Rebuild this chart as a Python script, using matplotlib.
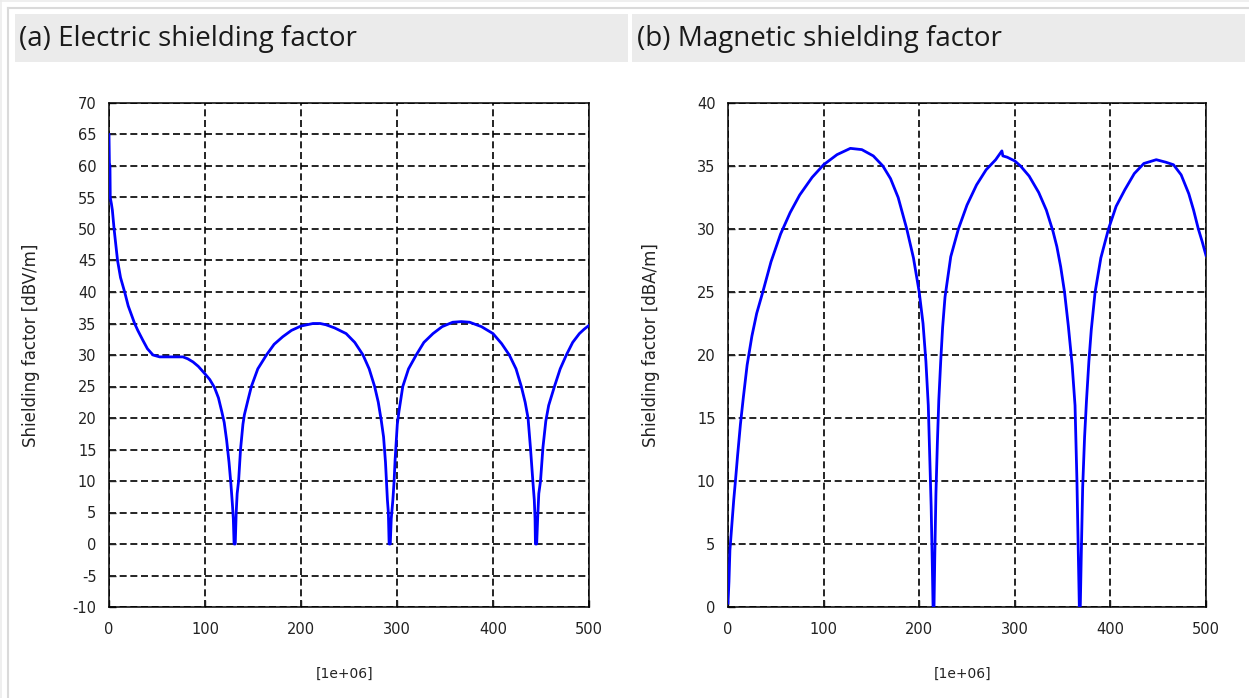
import matplotlib
matplotlib.use('Agg')
import matplotlib.pyplot as plt
from matplotlib.patches import Rectangle
from matplotlib.lines import Line2D

plt.rcParams['axes.unicode_minus'] = False

# electric shielding factor, x in [1e+06]
freq_e = [0, 0.4, 1.0, 1.3, 2.5, 3.5, 5.3, 8.9, 12, 16.3, 20, 26.7, 30, 35.4, 40, 45.8,
          52.8, 65, 77, 82, 87.5, 93, 100, 105, 110, 114, 117.5, 120, 122.5, 125, 127,
          128.5, 129.5, 130.3, 131.5, 132.5, 133.5, 135, 137, 139.5, 141, 145, 148.3, 155,
          164, 172, 181, 190, 200, 212.5, 220, 226, 235, 247, 256, 264.6, 271, 276.7,
          280.5, 283.7, 286, 288, 290, 291, 291.8, 293, 294, 295.7, 297, 298, 300.3, 302,
          306, 312, 320, 328, 337.5, 347, 358, 367, 375.7, 388, 400, 409, 417, 424, 429.5,
          433.5, 436.5, 439, 441.5, 443, 443.8, 444.2, 445.5, 446.5, 447.7, 449.5, 452,
          455, 458, 464, 470, 476.4, 483, 490, 495, 500]
shield_e = [65, 60.5, 60, 55, 54, 53, 50, 45, 42.3, 40, 37.8, 35, 33.9, 32.3, 31, 30,
            29.7, 29.7, 29.7, 29.4, 28.9, 28.2, 27, 26.1, 24.8, 23.2, 21, 19.3, 16.5, 13,
            9.5, 6.4, 4, 0, 0, 5, 8, 10, 15, 19, 20.5, 23, 25, 27.8,
            30, 31.7, 32.9, 33.9, 34.6, 35, 35, 34.8, 34.3, 33.4, 32, 30, 27.8, 25,
            22.5, 19.5, 17, 13, 7, 5, 0, 0, 4, 7, 10, 13.3, 19, 21,
            25, 27.8, 30, 32, 33.4, 34.5, 35.2, 35.3, 35.2, 34.5, 33.4, 31.8, 30, 27.8, 25,
            22.5, 20, 15.3, 10, 7, 4, 0, 0, 4, 8, 10, 15.3,
            19.5, 22, 25, 27.8, 30, 32, 33.4, 34.1, 34.7]

# magnetic shielding factor
freq_m = [0, 1, 2, 4, 6, 8, 10, 13, 16, 20, 25, 30, 36.4, 45, 55, 65, 75, 88, 100, 114,
          128, 140, 152, 162, 170, 178, 187, 194, 200, 204, 207, 209.5, 211, 212.5, 213.8,
          214.5, 215.5, 216.3, 217.5, 219, 220.5, 222.5, 224.5, 227, 233, 241, 250, 260,
          270, 280, 286.5, 287.5, 292, 300, 306, 315, 325, 333, 340, 344, 348, 352, 356,
          360, 363, 365, 366.5, 367.5, 368.5, 369.5, 371, 373, 375, 377.5, 380, 384, 390,
          398, 406, 415, 425, 435, 448, 458, 466, 474, 482, 487, 492, 496, 500]
shield_m = [0.3, 2, 4.5, 6.5, 8.5, 10.2, 12, 14.5, 16.6, 19.2, 21.5, 23.3, 25, 27.4, 29.6,
            31.3, 32.7, 34.1, 35.1, 35.9, 36.4, 36.3, 35.8, 35, 34, 32.5, 30, 27.7, 25, 22.5,
            19.5, 16, 12, 8, 3, 0, 0, 4, 9, 13, 16.4, 19.5, 22.2, 24.6, 27.8, 30, 31.9,
            33.5, 34.7, 35.5, 36.2, 35.8, 35.7, 35.4, 35, 34.2, 32.9, 31.5, 29.8, 28.6, 27,
            25, 22.3, 19.2, 16, 10, 4, 0, 0, 4, 9.5, 13.5, 16.4, 19.5, 22, 25, 27.7,
            30, 31.8, 33.1, 34.4, 35.2, 35.5, 35.3, 35.1, 34.3, 32.8, 31.5, 30, 29, 27.9]

titles = ['(a) Electric shielding factor', '(b) Magnetic shielding factor']
ylabels = ['Shielding factor [dBV/m]', 'Shielding factor [dBA/m]']
xlabel = '[1e+06]'
x_ticks = [0, 100, 200, 300, 400, 500]
y_ticks_e = list(range(-10, 71, 5))
y_ticks_m = list(range(0, 41, 5))

W, H = 1249, 698
fig = plt.figure(figsize=(W / 100, H / 100), dpi=100)
fig.patch.set_facecolor('white')


def px_rect(x0, y0, x1, y1, color):
    fig.add_artist(Rectangle((x0 / W, 1 - y1 / H), (x1 - x0) / W, (y1 - y0) / H,
                             transform=fig.transFigure, facecolor=color,
                             edgecolor='none', zorder=0))


# page frame lines
fig.add_artist(Line2D([0, 1], [1 - 0.8 / H] * 2, transform=fig.transFigure, color='#ececec', lw=1.2))
fig.add_artist(Line2D([7.5 / W, 1], [1 - 7.5 / H] * 2, transform=fig.transFigure, color='#dadada', lw=1.5))
fig.add_artist(Line2D([0.8 / W] * 2, [0, 1], transform=fig.transFigure, color='#ececec', lw=1.2))
fig.add_artist(Line2D([7.5 / W] * 2, [0, 1 - 7.5 / H], transform=fig.transFigure, color='#dadada', lw=1.5))

# header bars
px_rect(15, 14, 628, 62, '#ebebeb')
px_rect(632, 14, 1245, 62, '#ebebeb')
fig.text(19 / W, 1 - 39 / H, titles[0], fontsize=20, family='Open Sans', color='#1a1a1a',
         ha='left', va='center')
fig.text(637 / W, 1 - 39 / H, titles[1], fontsize=20, family='Open Sans', color='#1a1a1a',
         ha='left', va='center')

ax1 = fig.add_axes([109 / W, 1 - 607 / H, 480 / W, 504 / H])
ax2 = fig.add_axes([728 / W, 1 - 607 / H, 478 / W, 504 / H])

panels = [
    (ax1, freq_e, shield_e, (-10, 70), y_ticks_e, ylabels[0]),
    (ax2, freq_m, shield_m, (0, 40), y_ticks_m, ylabels[1]),
]

for ax, x, y, ylim, yt, ylab in panels:
    ax.plot(x, y, color='#0000ff', lw=2.0, zorder=3)
    ax.set_xlim(0, 500)
    ax.set_ylim(*ylim)
    ax.set_xticks(x_ticks)
    ax.set_yticks(yt)
    ax.grid(True, color='black', lw=1.2, linestyle=(0, (4.2, 2.2)))
    ax.set_axisbelow(True)
    for s in ax.spines.values():
        s.set_linewidth(1.1)
        s.set_color('black')
    ax.tick_params(direction='in', length=5, width=1, labelsize=10.5, colors='#222222')
    ax.tick_params(axis='x', pad=11)
    ax.tick_params(axis='y', pad=9)
    for lab in ax.get_xticklabels() + ax.get_yticklabels():
        lab.set_family('DejaVu Sans')
    ax.set_xlabel(xlabel, fontsize=10, family='DejaVu Sans', color='#222222')
    ax.xaxis.set_label_coords(0.49, -0.119)
    ax.set_ylabel(ylab, fontsize=12, family='DejaVu Sans', color='#222222')
    ax.yaxis.set_label_coords(-0.143, 0.52)

fig.savefig('out.png', dpi=100, facecolor='white')
